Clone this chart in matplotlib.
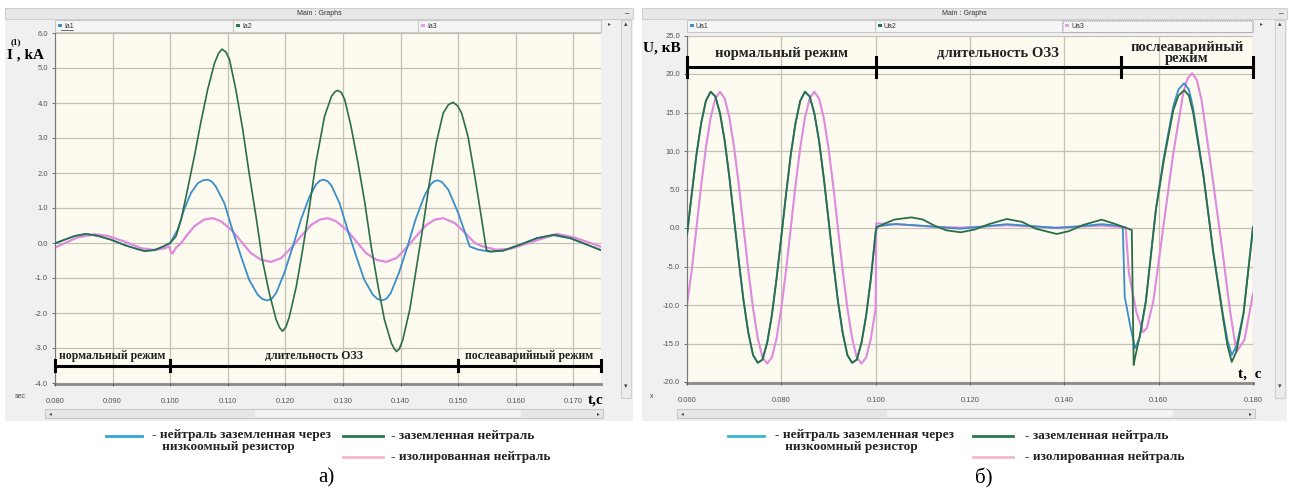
import numpy as np
import matplotlib.pyplot as plt
from matplotlib.patches import Rectangle
from matplotlib.ticker import MultipleLocator, FormatStrFormatter

# ---------------- data: panel a) phase currents, kA ----------------
t_ia1 = [0.0800, 0.0816, 0.0834, 0.0854, 0.0875, 0.0898, 0.0921, 0.0944, 0.0956,
         0.0973, 0.0988, 0.1000, 0.1013, 0.1024, 0.1036, 0.1048, 0.1057, 0.1065,
         0.1072, 0.1079, 0.1094, 0.1108, 0.1123, 0.1137, 0.1152, 0.1160, 0.1168,
         0.1176, 0.1184, 0.1198, 0.1213, 0.1227, 0.1242, 0.1253, 0.1260, 0.1266,
         0.1273, 0.1280, 0.1294, 0.1308, 0.1323, 0.1337, 0.1352, 0.1360, 0.1367,
         0.1375, 0.1383, 0.1397, 0.1412, 0.1426, 0.1441, 0.1452, 0.1459, 0.1465,
         0.1472, 0.1483, 0.1500, 0.1512, 0.1520, 0.1535, 0.1556, 0.1578, 0.1607,
         0.1637, 0.1666, 0.1695, 0.1724, 0.1748]
ia1 = [-0.01, 0.09, 0.20, 0.26, 0.20, 0.09, -0.06, -0.18, -0.23,
       -0.20, -0.10, 0.00, 0.38, 0.95, 1.43, 1.71, 1.79, 1.81,
       1.76, 1.62, 1.14, 0.38, -0.38, -1.05, -1.48, -1.60, -1.64,
       -1.60, -1.43, -0.86, -0.10, 0.67, 1.33, 1.67, 1.78, 1.81,
       1.77, 1.64, 1.14, 0.38, -0.38, -1.05, -1.48, -1.60, -1.64,
       -1.60, -1.43, -0.86, -0.10, 0.67, 1.33, 1.67, 1.77, 1.79,
       1.74, 1.52, 0.86, 0.29, -0.10, -0.19, -0.25, -0.22, -0.05,
       0.14, 0.22, 0.13, -0.05, -0.20]

t_ia2 = [0.0800, 0.0816, 0.0834, 0.0854, 0.0875, 0.0898, 0.0921, 0.0944, 0.0956,
         0.0973, 0.0988, 0.1000, 0.1010, 0.1019, 0.1030, 0.1042, 0.1053, 0.1065,
         0.1077, 0.1084, 0.1090, 0.1097, 0.1103, 0.1114, 0.1126, 0.1137, 0.1149,
         0.1160, 0.1172, 0.1184, 0.1190, 0.1195, 0.1201, 0.1207, 0.1219, 0.1230,
         0.1242, 0.1253, 0.1268, 0.1280, 0.1286, 0.1291, 0.1297, 0.1303, 0.1314,
         0.1326, 0.1338, 0.1349, 0.1361, 0.1372, 0.1384, 0.1389, 0.1393, 0.1398,
         0.1404, 0.1416, 0.1427, 0.1439, 0.1450, 0.1462, 0.1474, 0.1483, 0.1491,
         0.1499, 0.1506, 0.1517, 0.1529, 0.1540, 0.1549, 0.1555, 0.1578, 0.1607,
         0.1637, 0.1666, 0.1695, 0.1724, 0.1748]
ia2 = [-0.01, 0.09, 0.20, 0.26, 0.20, 0.09, -0.06, -0.18, -0.23,
       -0.20, -0.10, 0.00, 0.19, 0.67, 1.52, 2.48, 3.43, 4.38,
       5.14, 5.42, 5.54, 5.45, 5.24, 4.38, 3.24, 2.00, 0.76,
       -0.48, -1.43, -2.19, -2.42, -2.52, -2.40, -2.10, -1.24, -0.19,
       1.05, 2.29, 3.62, 4.19, 4.32, 4.36, 4.30, 4.10, 3.33,
       2.29, 1.14, -0.10, -1.24, -2.19, -2.86, -3.02, -3.10, -3.02,
       -2.76, -1.90, -0.76, 0.48, 1.71, 2.86, 3.71, 3.95, 4.02,
       3.92, 3.71, 3.05, 1.90, 0.76, -0.20, -0.24, -0.22, -0.05,
       0.14, 0.24, 0.14, -0.05, -0.21]

t_ia3 = [0.0800, 0.0816, 0.0839, 0.0869, 0.0892, 0.0921, 0.0950, 0.0973, 0.0990,
         0.0998, 0.1002, 0.1004, 0.1010, 0.1019, 0.1030, 0.1042, 0.1059, 0.1074,
         0.1088, 0.1106, 0.1123, 0.1140, 0.1158, 0.1175, 0.1193, 0.1210, 0.1227,
         0.1245, 0.1260, 0.1274, 0.1288, 0.1306, 0.1323, 0.1340, 0.1358, 0.1375,
         0.1393, 0.1410, 0.1427, 0.1445, 0.1460, 0.1474, 0.1494, 0.1512, 0.1529,
         0.1543, 0.1566, 0.1590, 0.1613, 0.1643, 0.1672, 0.1701, 0.1730, 0.1748]
ia3 = [-0.13, -0.01, 0.16, 0.25, 0.20, 0.04, -0.15, -0.20, -0.15,
       -0.10, -0.28, -0.30, -0.14, 0.00, 0.24, 0.48, 0.67, 0.71,
       0.62, 0.38, 0.05, -0.29, -0.48, -0.54, -0.43, -0.14, 0.19,
       0.52, 0.67, 0.71, 0.62, 0.38, 0.05, -0.29, -0.48, -0.54,
       -0.43, -0.14, 0.19, 0.52, 0.67, 0.71, 0.57, 0.29, 0.00,
       -0.10, -0.19, -0.17, -0.05, 0.11, 0.26, 0.16, 0.00, -0.11]

phases_a = [0.080, 0.100, 0.150, 0.1748]
phase_labels_a = ['нормальный режим', 'длительность ОЗЗ', 'послеаварийный режим']

# ---------------- data: panel б) phase voltages, kV ----------------
t_pre = [0.060, 0.061, 0.062, 0.063, 0.064, 0.065, 0.066, 0.067, 0.068, 0.069,
         0.070, 0.071, 0.072, 0.073, 0.074, 0.075, 0.076, 0.077, 0.078, 0.079,
         0.080, 0.081, 0.082, 0.083, 0.084, 0.085, 0.086, 0.087, 0.088, 0.089,
         0.090, 0.091, 0.092, 0.093, 0.094, 0.095, 0.096, 0.097, 0.098, 0.099,
         0.100]
# Ua1 and Ua2 coincide before the fault
ua12_pre = [-0.9, 4.4, 9.5, 13.6, 16.5, 17.7, 17.1, 14.9, 11.3, 6.5,
            1.1, -4.4, -9.5, -13.6, -16.5, -17.5, -17.1, -14.9, -11.3, -6.5,
            -1.1, 4.4, 9.5, 13.6, 16.5, 17.7, 17.1, 14.9, 11.3, 6.5,
            1.1, -4.4, -9.5, -13.6, -16.5, -17.5, -17.1, -14.9, -11.3, -6.5,
            -0.5]
ua3_pre = [-10.0, -5.5, 0.0, 5.5, 10.4, 14.3, 16.8, 17.7, 16.8, 14.3,
           10.4, 5.5, 0.0, -5.5, -10.4, -14.3, -16.8, -17.6, -16.8, -14.3,
           -10.4, -5.5, 0.0, 5.5, 10.4, 14.3, 16.8, 17.7, 16.8, 14.3,
           10.4, 5.5, 0.0, -5.5, -10.4, -14.3, -16.8, -17.6, -16.8, -14.3,
           -10.4]

t_ua1_post = [0.1002, 0.1044, 0.1124, 0.1179, 0.1230, 0.1278, 0.1330, 0.1384, 0.1430,
              0.1479, 0.1519, 0.1524, 0.1528, 0.1540, 0.1550, 0.1560, 0.1573, 0.1594,
              0.1611, 0.1631, 0.1642, 0.1654, 0.1664, 0.1673, 0.1695, 0.1716, 0.1737,
              0.1746, 0.1755, 0.1765, 0.1780, 0.1800]
ua1_post = [0.2, 0.52, 0.17, -0.1, 0.2, 0.5, 0.25, 0.0, 0.2,
            0.5, 0.26, 0.0, -8.9, -12.8, -15.6, -14.2, -9.5, 2.4,
            9.2, 15.8, 18.0, 18.8, 18.0, 15.6, 6.9, -3.2, -11.5,
            -14.6, -16.5, -15.3, -11.0, 0.2]

t_ua2_post = [0.1003, 0.1020, 0.1040, 0.1076, 0.1100, 0.1125, 0.1150, 0.1180, 0.1210,
              0.1240, 0.1278, 0.1310, 0.1340, 0.1384, 0.1410, 0.1440, 0.1479, 0.1504,
              0.1543, 0.1547, 0.1550, 0.1560, 0.1573, 0.1594, 0.1611, 0.1631, 0.1642,
              0.1654, 0.1664, 0.1673, 0.1695, 0.1716, 0.1737, 0.1746, 0.1755, 0.1765,
              0.1780, 0.1800]
ua2_post = [0.1, 0.6, 1.1, 1.38, 1.1, 0.3, -0.3, -0.56, -0.2,
            0.5, 1.17, 0.8, -0.1, -0.78, -0.4, 0.4, 1.08, 0.6,
            -0.26, -17.8, -16.8, -14.0, -9.4, 2.3, 8.8, 15.3, 17.2,
            17.9, 17.2, 15.0, 6.7, -3.3, -11.9, -15.3, -17.4, -16.0,
            -11.1, 0.0]

t_ua3_post = [0.1001, 0.1030, 0.1080, 0.1130, 0.1180, 0.1230, 0.1280, 0.1330, 0.1380,
              0.1430, 0.1480, 0.1530, 0.1537, 0.1553, 0.1567, 0.1575, 0.1589, 0.1610,
              0.1631, 0.1652, 0.1661, 0.1671, 0.1681, 0.1691, 0.1712, 0.1734, 0.1751,
              0.1765, 0.1782, 0.1800]
ua3_post = [0.6, 0.5, 0.35, 0.15, 0.05, 0.2, 0.35, 0.2, 0.05,
            0.2, 0.3, 0.1, -5.9, -11.0, -13.5, -13.0, -9.4, 0.2,
            9.7, 17.5, 19.4, 20.1, 19.2, 16.6, 7.5, -2.4, -10.6,
            -16.1, -14.5, -8.5]

phases_b = [0.060, 0.100, 0.152, 0.180]
phase_labels_b = ['нормальный режим', 'длительность ОЗЗ', 'послеаварийный\nрежим']

legend_texts = ['- нейтраль заземленная через\n   низкоомный резистор',
                '- заземленная нейтраль', '- изолированная нейтраль']

# ---------------- styling ----------------
C_BLUE = '#3b8ec8'
C_GREEN = '#2b6e48'
C_PINK = '#de8ade'
BG_PLOT = '#fdfaf0'
GRID = '#c4c0b2'
CHROME = '#f0f0f0'
SERIF = 'Liberation Serif'
UI = 'Liberation Sans'

W, H = 1289, 492
fig = plt.figure(figsize=(W / 100, H / 100), dpi=100)
fig.patch.set_facecolor('white')

# pixel-space overlay for window chrome and captions
bg = fig.add_axes([0, 0, 1, 1])
bg.set_xlim(0, W)
bg.set_ylim(H, 0)
bg.axis('off')


def box(x0, y0, x1, y1, fc, ec='none', lw=0.8, ls='-'):
    bg.add_patch(Rectangle((x0, y0), x1 - x0, y1 - y0, facecolor=fc,
                           edgecolor=ec, lw=lw, ls=ls))


def px_axes(x0, y0, x1, y1):
    return fig.add_axes([x0 / W, 1 - y1 / H, (x1 - x0) / W, (y1 - y0) / H])


def chrome(x0, x1, px0, px1, pbot, names, cols, divs):
    box(x0, 8, x1, 421, CHROME)
    box(x0, 8, x1, 19, '#e8e8e8', '#cfcfcf')
    bg.text((x0 + x1) / 2, 13.5, 'Main : Graphs', fontsize=5, family=UI,
            color='#333333', ha='center', va='center')
    bg.text(x1 - 6, 14, '–', fontsize=6, family=UI, ha='center', va='center')
    box(px0, 20, px1, 32, '#f6f6f6', '#c8c8c8')
    for d in divs:
        bg.plot([d, d], [20, 32], color='#c8c8c8', lw=0.8)
    starts = [px0] + divs
    for s, n, c in zip(starts, names, cols):
        box(s + 3, 24, s + 7, 27, c)
        bg.text(s + 9, 26, n, fontsize=5, family=UI, color='#333333', va='center')
    # vertical scrollbar
    box(x1 - 12, 20, x1 - 2, 398, '#ececec', '#d0d0d0')
    bg.text(x1 - 7, 24, '▴', fontsize=5, ha='center', va='center', color='#444444')
    bg.text(x1 - 7, 386, '▾', fontsize=5, ha='center', va='center', color='#444444')
    bg.text(px1 + 8, 24, '▸', fontsize=4, ha='center', va='center', color='#444444')
    # horizontal scrollbar
    box(px0 - 10, 409, px1 + 2, 418, '#e6e6e6', '#c8c8c8')
    box(px0 + 200, 410, px1 - 80, 417, '#f4f4f4')
    bg.text(px0 - 5, 413.5, '◂', fontsize=4, ha='center', va='center', color='#444444')
    bg.text(px1 - 3, 413.5, '▸', fontsize=4, ha='center', va='center', color='#444444')
    bg.plot([px0, px1], [pbot, pbot], color='#8a8a8a', lw=2)


chrome(5, 633, 55, 601, 384, ['Ia1', 'Ia2', 'Ia3'],
       [C_BLUE, '#2a7a50', '#e8a0e8'], [233, 418])
chrome(642, 1287, 687, 1253, 383, ['Ua1', 'Ua2', 'Ua3'],
       [C_BLUE, '#2a7a50', '#e8a0e8'], [875, 1062])
box(1063, 20.5, 1252, 31.5, 'none', '#888888', lw=0.6, ls=':')
bg.plot([61, 73], [30, 30], color='#333333', lw=0.5)
bg.text(20, 397, 'sec', fontsize=5, family=UI, color='#444444', ha='center', va='center')
bg.text(652, 396, 'x', fontsize=5, family=UI, color='#444444', ha='center', va='center')


def setup(ax, xlim, ylim, xstep, ystep):
    ax.set_facecolor(BG_PLOT)
    ax.set_xlim(*xlim)
    ax.set_ylim(*ylim)
    ax.xaxis.set_major_locator(MultipleLocator(xstep))
    ax.yaxis.set_major_locator(MultipleLocator(ystep))
    ax.xaxis.set_major_formatter(FormatStrFormatter('%.3f'))
    ax.yaxis.set_major_formatter(FormatStrFormatter('%.1f'))
    ax.grid(True, color=GRID, lw=0.9)
    ax.set_axisbelow(True)
    for s in ['top', 'right']:
        ax.spines[s].set_visible(False)
    ax.spines['left'].set_color('#777777')
    ax.spines['bottom'].set_visible(False)
    ax.tick_params(labelsize=5.5, colors='#555555', length=2, width=0.6)
    ax.tick_params(axis='x', pad=9)
    ax.tick_params(axis='y', pad=3)
    for lab in ax.get_xticklabels() + ax.get_yticklabels():
        lab.set_family(UI)


def phase_bar(ax, bounds, labels, yline, ytext, fs, tick):
    ax.plot([bounds[0], bounds[-1]], [yline, yline], color='black', lw=2.2,
            solid_capstyle='butt', clip_on=False, zorder=5)
    for b in bounds:
        ax.plot([b, b], [yline - tick, yline + tick], color='black', lw=2.2,
                clip_on=False, zorder=5)
    for a, b, lab in zip(bounds[:-1], bounds[1:], labels):
        ax.text((a + b) / 2, ytext, lab, ha='center', va='center', fontsize=fs,
                family=SERIF, weight='bold', color='#222222', linespacing=0.78)


# ---------------- panel a) ----------------
ax1 = px_axes(55, 33, 601, 383)
setup(ax1, (0.080, 0.1748), (-4.0, 6.0), 0.010, 1.0)
ax1.plot(t_ia1, ia1, color=C_BLUE, lw=1.3, zorder=3)
ax1.plot(t_ia3, ia3, color=C_PINK, lw=1.6, zorder=2)
ax1.plot(t_ia2, ia2, color=C_GREEN, lw=1.2, zorder=4)
phase_bar(ax1, phases_a, phase_labels_a, -3.5, -3.24, 8.5, 0.17)

# ---------------- panel б) ----------------
ax2 = px_axes(687, 35.5, 1253, 382)
setup(ax2, (0.060, 0.180), (-20.0, 25.0), 0.020, 5.0)
ax2.plot(t_pre + t_ua1_post, ua12_pre + ua1_post, color=C_BLUE, lw=1.3, zorder=3)
ax2.plot(t_pre + t_ua3_post, ua3_pre + ua3_post, color=C_PINK, lw=1.5, zorder=2)
ax2.plot(t_pre + t_ua2_post, ua12_pre + ua2_post, color=C_GREEN, lw=1.3, zorder=4)
phase_bar(ax2, phases_b, phase_labels_b, 20.9, 22.7, 10.5, 1.3)

# top layer for labels that sit over the plot areas
fg = fig.add_axes([0, 0, 1, 1], zorder=10)
fg.set_xlim(0, W)
fg.set_ylim(H, 0)
fg.axis('off')
fg.patch.set_alpha(0)

fg.text(16, 42, '(1)', fontsize=6.5, family=SERIF, weight='bold', ha='center', va='center')
fg.text(7, 55, 'I , kA', fontsize=11, family=SERIF, weight='bold', ha='left', va='center')
fg.text(596, 400, 't,c', fontsize=11, family=SERIF, weight='bold', ha='center', va='center')
fg.text(643, 48, 'U, кВ', fontsize=11, family=SERIF, weight='bold', ha='left', va='center')
fg.text(1250, 374, 't,  c', fontsize=11, family=SERIF, weight='bold', ha='center', va='center')


# ---------------- bottom legends and captions ----------------
def legend_block(xb, xg, xt1, xt2, cb):
    fg.plot([xb, xb + 36], [436, 436], color=cb, lw=2)
    fg.text(xt1, 429, legend_texts[0], fontsize=9.5, family=SERIF, weight='bold',
            color='#222222', va='top', ha='left', linespacing=1.0)
    fg.plot([xg, xg + 40], [436, 436], color='#2b7a4b', lw=2)
    fg.text(xt2, 436, legend_texts[1], fontsize=9.5, family=SERIF, weight='bold',
            color='#222222', va='center')
    fg.plot([xg, xg + 40], [457, 457], color='#f2b8c8', lw=2)
    fg.text(xt2, 457, legend_texts[2], fontsize=9.5, family=SERIF, weight='bold',
            color='#222222', va='center')


legend_block(106, 343, 152, 391, '#37a2d8')
legend_block(728, 973, 775, 1025, '#3bb4d2')
fg.text(326, 478, 'а)', fontsize=15, family=SERIF, ha='center', va='center')
fg.text(984, 478, 'б)', fontsize=15, family=SERIF, ha='center', va='center')

fig.savefig('out.png', dpi=100)
